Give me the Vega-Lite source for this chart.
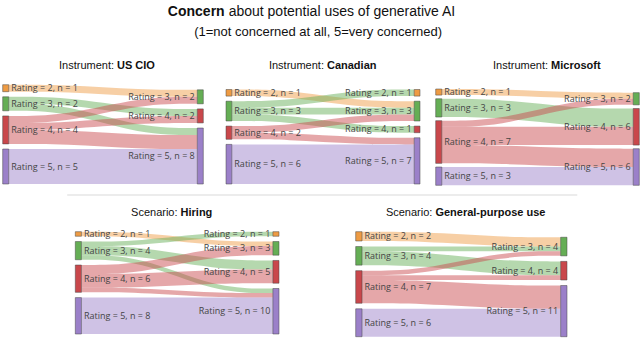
{
  "$schema": "https://vega.github.io/schema/vega-lite/v6.json",
  "padding": 0,
  "spacing": 0,
  "config": {"view": {"stroke": null}, "axis": {"disable": true}, "legend": {"disable": true}},
  "data": {"values": [
    {"panel": "US CIO", "src": 2, "tgt": 3, "value": 1},
    {"panel": "US CIO", "src": 3, "tgt": 4, "value": 1},
    {"panel": "US CIO", "src": 3, "tgt": 5, "value": 1},
    {"panel": "US CIO", "src": 4, "tgt": 3, "value": 1},
    {"panel": "US CIO", "src": 4, "tgt": 4, "value": 1},
    {"panel": "US CIO", "src": 4, "tgt": 5, "value": 2},
    {"panel": "US CIO", "src": 5, "tgt": 5, "value": 5},
    {"panel": "Canadian", "src": 2, "tgt": 3, "value": 1},
    {"panel": "Canadian", "src": 3, "tgt": 2, "value": 1},
    {"panel": "Canadian", "src": 3, "tgt": 3, "value": 1},
    {"panel": "Canadian", "src": 3, "tgt": 4, "value": 1},
    {"panel": "Canadian", "src": 4, "tgt": 3, "value": 1},
    {"panel": "Canadian", "src": 4, "tgt": 5, "value": 1},
    {"panel": "Canadian", "src": 5, "tgt": 5, "value": 6},
    {"panel": "Microsoft", "src": 2, "tgt": 3, "value": 1},
    {"panel": "Microsoft", "src": 3, "tgt": 4, "value": 3},
    {"panel": "Microsoft", "src": 4, "tgt": 3, "value": 1},
    {"panel": "Microsoft", "src": 4, "tgt": 4, "value": 3},
    {"panel": "Microsoft", "src": 4, "tgt": 5, "value": 3},
    {"panel": "Microsoft", "src": 5, "tgt": 5, "value": 3},
    {"panel": "Hiring", "src": 2, "tgt": 3, "value": 1},
    {"panel": "Hiring", "src": 3, "tgt": 2, "value": 1},
    {"panel": "Hiring", "src": 3, "tgt": 4, "value": 2},
    {"panel": "Hiring", "src": 3, "tgt": 5, "value": 1},
    {"panel": "Hiring", "src": 4, "tgt": 3, "value": 2},
    {"panel": "Hiring", "src": 4, "tgt": 4, "value": 3},
    {"panel": "Hiring", "src": 4, "tgt": 5, "value": 1},
    {"panel": "Hiring", "src": 5, "tgt": 5, "value": 8},
    {"panel": "General-purpose use", "src": 2, "tgt": 3, "value": 2},
    {"panel": "General-purpose use", "src": 3, "tgt": 3, "value": 1},
    {"panel": "General-purpose use", "src": 3, "tgt": 4, "value": 3},
    {"panel": "General-purpose use", "src": 4, "tgt": 3, "value": 1},
    {"panel": "General-purpose use", "src": 4, "tgt": 4, "value": 1},
    {"panel": "General-purpose use", "src": 4, "tgt": 5, "value": 5},
    {"panel": "General-purpose use", "src": 5, "tgt": 5, "value": 6}
  ]},
  "transform": [
    {"joinaggregate": [{"op": "sum", "field": "value", "as": "T"}], "groupby": ["panel"]},
    {"calculate": "datum.panel==='US CIO'?0.73:datum.panel==='Canadian'?0.77:datum.panel==='Microsoft'?0.6:datum.panel==='Hiring'?1.16:1.19", "as": "gap"},
    {"window": [{"op": "sum", "field": "value", "as": "srcCum"}], "groupby": ["panel", "src"], "sort": [{"field": "tgt"}]},
    {"window": [{"op": "sum", "field": "value", "as": "tgtCum"}], "groupby": ["panel", "tgt"], "sort": [{"field": "src"}]},
    {"window": [{"op": "sum", "field": "value", "as": "srcNodeCum"}, {"op": "dense_rank", "as": "srcRank"}], "groupby": ["panel"], "sort": [{"field": "src"}]},
    {"window": [{"op": "sum", "field": "value", "as": "tgtNodeCum"}, {"op": "dense_rank", "as": "tgtRank"}], "groupby": ["panel"], "sort": [{"field": "tgt"}]},
    {"joinaggregate": [{"op": "sum", "field": "value", "as": "srcTotal"}], "groupby": ["panel", "src"]},
    {"joinaggregate": [{"op": "sum", "field": "value", "as": "tgtTotal"}], "groupby": ["panel", "tgt"]},
    {"joinaggregate": [{"op": "distinct", "field": "src", "as": "nSrc"}, {"op": "distinct", "field": "tgt", "as": "nTgt"}], "groupby": ["panel"]},
    {"calculate": "datum.T + (max(datum.nSrc, datum.nTgt) - 1) * datum.gap", "as": "S"},
    {"calculate": "datum.S - (datum.T + (datum.nSrc - 1) * datum.gap) + (datum.srcNodeCum - datum.srcTotal) + (datum.srcRank - 1) * datum.gap", "as": "srcTop"},
    {"calculate": "datum.S - (datum.T + (datum.nTgt - 1) * datum.gap) + (datum.tgtNodeCum - datum.tgtTotal) + (datum.tgtRank - 1) * datum.gap", "as": "tgtTop"},
    {"calculate": "datum.srcTop + datum.srcCum - datum.value", "as": "sy0"},
    {"calculate": "datum.sy0 + datum.value", "as": "sy1"},
    {"calculate": "datum.tgtTop + datum.tgtCum - datum.value", "as": "ty0"},
    {"calculate": "datum.ty0 + datum.value", "as": "ty1"},
    {"calculate": "[0, 1, 2, 3]", "as": "pts"}
  ],
  "vconcat": [
    {
      "width": 640, "height": 56,
      "data": {"values": [{}]},
      "layer": [
        {"mark": {"type": "text", "align": "right", "baseline": "middle", "font": "Liberation Sans", "fontSize": 14, "fontWeight": "bold", "color": "#111"},
         "encoding": {"x": {"datum": 0.351, "scale": {"domain": [0, 1]}}, "y": {"datum": 0.214, "scale": {"domain": [0, 1], "range": [0, 56]}}, "text": {"value": "Concern"}}},
        {"mark": {"type": "text", "align": "left", "baseline": "middle", "dx": 4, "font": "Liberation Sans", "fontSize": 14, "color": "#111"},
         "encoding": {"x": {"datum": 0.351}, "y": {"datum": 0.214}, "text": {"value": "about potential uses of generative AI"}}},
        {"mark": {"type": "text", "align": "center", "baseline": "middle", "font": "Liberation Sans", "fontSize": 13, "color": "#111"},
         "encoding": {"x": {"datum": 0.497}, "y": {"datum": 0.571}, "text": {"value": "(1=not concerned at all, 5=very concerned)"}}}
      ]
    },
    {
      "spacing": 0,
      "hconcat": [
        {
          "width": 215, "height": 134,
          "transform": [{"filter": "datum.panel === 'US CIO'"}],
          "layer": [
            {"transform": [
               {"flatten": ["pts"], "as": ["idx"]},
               {"calculate": "datum.idx==0?0.03:datum.idx==1?0.312:datum.idx==2?0.688:0.97", "as": "fx"},
               {"calculate": "datum.idx<2?datum.sy0:datum.ty0", "as": "fy0"},
               {"calculate": "datum.idx<2?datum.sy1:datum.ty1", "as": "fy1"}],
             "mark": {"type": "area", "interpolate": "basis", "fillOpacity": 0.48},
             "encoding": {
               "x": {"field": "fx", "type": "quantitative", "scale": {"domain": [0, 1], "range": [2.7, 203.3]}},
               "y": {"field": "fy0", "type": "quantitative", "scale": {"domain": [0, 14.19], "range": [28.7, 128], "nice": false, "zero": false}},
               "y2": {"field": "fy1"},
               "color": {"field": "src", "type": "nominal", "scale": {"domain": [2, 3, 4, 5], "range": ["#EE9B43", "#65AE55", "#C9474B", "#9B80C9"]}},
               "detail": {"field": "tgt", "type": "nominal"}}},
            {"transform": [
               {"aggregate": [{"op": "min", "field": "srcTop", "as": "ny0"}, {"op": "min", "field": "srcTotal", "as": "n"}], "groupby": ["src"]},
               {"calculate": "datum.ny0 + datum.n", "as": "ny1"},
               {"calculate": "datum.ny0 + datum.n / 2", "as": "ym"},
               {"calculate": "'Rating = ' + datum.src + ', n = ' + datum.n", "as": "lab"}],
             "layer": [
               {"mark": {"type": "rect", "stroke": "#444", "strokeWidth": 0.5},
                "encoding": {"x": {"datum": 0}, "x2": {"datum": 0.03}, "y": {"field": "ny0", "type": "quantitative"}, "y2": {"field": "ny1"}, "color": {"field": "src", "type": "nominal"}}},
               {"mark": {"type": "text", "align": "left", "baseline": "middle", "dx": 2.5, "font": "Open Sans", "fontSize": 9, "color": "#444"},
                "encoding": {"x": {"datum": 0.03}, "y": {"field": "ym", "type": "quantitative"}, "text": {"field": "lab"}}}
             ]},
            {"transform": [
               {"aggregate": [{"op": "min", "field": "tgtTop", "as": "ny0"}, {"op": "min", "field": "tgtTotal", "as": "n"}], "groupby": ["tgt"]},
               {"calculate": "datum.ny0 + datum.n", "as": "ny1"},
               {"calculate": "datum.ny0 + datum.n / 2", "as": "ym"},
               {"calculate": "'Rating = ' + datum.tgt + ', n = ' + datum.n", "as": "lab"}],
             "layer": [
               {"mark": {"type": "rect", "stroke": "#444", "strokeWidth": 0.5},
                "encoding": {"x": {"datum": 0.97}, "x2": {"datum": 1}, "y": {"field": "ny0", "type": "quantitative"}, "y2": {"field": "ny1"}, "color": {"field": "tgt", "type": "nominal"}}},
               {"mark": {"type": "text", "align": "right", "baseline": "middle", "dx": -2.5, "font": "Open Sans", "fontSize": 9, "color": "#444"},
                "encoding": {"x": {"datum": 0.97}, "y": {"field": "ym", "type": "quantitative"}, "text": {"field": "lab"}}}
             ]},
            {"data": {"values": [{}]},
             "layer": [
               {"mark": {"type": "text", "align": "right", "baseline": "middle", "font": "Liberation Sans", "fontSize": 11, "color": "#111"},
                "encoding": {"x": {"datum": 0.555}, "y": {"datum": -2.67}, "text": {"value": "Instrument:"}}},
               {"mark": {"type": "text", "align": "left", "baseline": "middle", "dx": 3, "font": "Liberation Sans", "fontSize": 11, "fontWeight": "bold", "color": "#111"},
                "encoding": {"x": {"datum": 0.555}, "y": {"datum": -2.67}, "text": {"value": "US CIO"}}}
             ]}
          ]
        },
        {
          "width": 213, "height": 134,
          "transform": [{"filter": "datum.panel === 'Canadian'"}],
          "layer": [
            {"transform": [
               {"flatten": ["pts"], "as": ["idx"]},
               {"calculate": "datum.idx==0?0.03:datum.idx==1?0.312:datum.idx==2?0.688:0.97", "as": "fx"},
               {"calculate": "datum.idx<2?datum.sy0:datum.ty0", "as": "fy0"},
               {"calculate": "datum.idx<2?datum.sy1:datum.ty1", "as": "fy1"}],
             "mark": {"type": "area", "interpolate": "basis", "fillOpacity": 0.48},
             "encoding": {
               "x": {"field": "fx", "type": "quantitative", "scale": {"domain": [0, 1], "range": [11, 205]}},
               "y": {"field": "fy0", "type": "quantitative", "scale": {"domain": [0, 14.31], "range": [33.5, 128], "nice": false, "zero": false}},
               "y2": {"field": "fy1"},
               "color": {"field": "src", "type": "nominal", "scale": {"domain": [2, 3, 4, 5], "range": ["#EE9B43", "#65AE55", "#C9474B", "#9B80C9"]}},
               "detail": {"field": "tgt", "type": "nominal"}}},
            {"transform": [
               {"aggregate": [{"op": "min", "field": "srcTop", "as": "ny0"}, {"op": "min", "field": "srcTotal", "as": "n"}], "groupby": ["src"]},
               {"calculate": "datum.ny0 + datum.n", "as": "ny1"},
               {"calculate": "datum.ny0 + datum.n / 2", "as": "ym"},
               {"calculate": "'Rating = ' + datum.src + ', n = ' + datum.n", "as": "lab"}],
             "layer": [
               {"mark": {"type": "rect", "stroke": "#444", "strokeWidth": 0.5},
                "encoding": {"x": {"datum": 0}, "x2": {"datum": 0.03}, "y": {"field": "ny0", "type": "quantitative"}, "y2": {"field": "ny1"}, "color": {"field": "src", "type": "nominal"}}},
               {"mark": {"type": "text", "align": "left", "baseline": "middle", "dx": 2.5, "font": "Open Sans", "fontSize": 9, "color": "#444"},
                "encoding": {"x": {"datum": 0.03}, "y": {"field": "ym", "type": "quantitative"}, "text": {"field": "lab"}}}
             ]},
            {"transform": [
               {"aggregate": [{"op": "min", "field": "tgtTop", "as": "ny0"}, {"op": "min", "field": "tgtTotal", "as": "n"}], "groupby": ["tgt"]},
               {"calculate": "datum.ny0 + datum.n", "as": "ny1"},
               {"calculate": "datum.ny0 + datum.n / 2", "as": "ym"},
               {"calculate": "'Rating = ' + datum.tgt + ', n = ' + datum.n", "as": "lab"}],
             "layer": [
               {"mark": {"type": "rect", "stroke": "#444", "strokeWidth": 0.5},
                "encoding": {"x": {"datum": 0.97}, "x2": {"datum": 1}, "y": {"field": "ny0", "type": "quantitative"}, "y2": {"field": "ny1"}, "color": {"field": "tgt", "type": "nominal"}}},
               {"mark": {"type": "text", "align": "right", "baseline": "middle", "dx": -2.5, "font": "Open Sans", "fontSize": 9, "color": "#444"},
                "encoding": {"x": {"datum": 0.97}, "y": {"field": "ym", "type": "quantitative"}, "text": {"field": "lab"}}}
             ]},
            {"data": {"values": [{}]},
             "layer": [
               {"mark": {"type": "text", "align": "right", "baseline": "middle", "font": "Liberation Sans", "fontSize": 11, "color": "#111"},
                "encoding": {"x": {"datum": 0.505}, "y": {"datum": -3.56}, "text": {"value": "Instrument:"}}},
               {"mark": {"type": "text", "align": "left", "baseline": "middle", "dx": 3, "font": "Liberation Sans", "fontSize": 11, "fontWeight": "bold", "color": "#111"},
                "encoding": {"x": {"datum": 0.505}, "y": {"datum": -3.56}, "text": {"value": "Canadian"}}}
             ]}
          ]
        },
        {
          "width": 212, "height": 134,
          "transform": [{"filter": "datum.panel === 'Microsoft'"}],
          "layer": [
            {"transform": [
               {"flatten": ["pts"], "as": ["idx"]},
               {"calculate": "datum.idx==0?0.03:datum.idx==1?0.312:datum.idx==2?0.688:0.97", "as": "fx"},
               {"calculate": "datum.idx<2?datum.sy0:datum.ty0", "as": "fy0"},
               {"calculate": "datum.idx<2?datum.sy1:datum.ty1", "as": "fy1"}],
             "mark": {"type": "area", "interpolate": "basis", "fillOpacity": 0.48},
             "encoding": {
               "x": {"field": "fx", "type": "quantitative", "scale": {"domain": [0, 1], "range": [7.7, 211.3]}},
               "y": {"field": "fy0", "type": "quantitative", "scale": {"domain": [0, 15.8], "range": [33, 129.3], "nice": false, "zero": false}},
               "y2": {"field": "fy1"},
               "color": {"field": "src", "type": "nominal", "scale": {"domain": [2, 3, 4, 5], "range": ["#EE9B43", "#65AE55", "#C9474B", "#9B80C9"]}},
               "detail": {"field": "tgt", "type": "nominal"}}},
            {"transform": [
               {"aggregate": [{"op": "min", "field": "srcTop", "as": "ny0"}, {"op": "min", "field": "srcTotal", "as": "n"}], "groupby": ["src"]},
               {"calculate": "datum.ny0 + datum.n", "as": "ny1"},
               {"calculate": "datum.ny0 + datum.n / 2", "as": "ym"},
               {"calculate": "'Rating = ' + datum.src + ', n = ' + datum.n", "as": "lab"}],
             "layer": [
               {"mark": {"type": "rect", "stroke": "#444", "strokeWidth": 0.5},
                "encoding": {"x": {"datum": 0}, "x2": {"datum": 0.03}, "y": {"field": "ny0", "type": "quantitative"}, "y2": {"field": "ny1"}, "color": {"field": "src", "type": "nominal"}}},
               {"mark": {"type": "text", "align": "left", "baseline": "middle", "dx": 2.5, "font": "Open Sans", "fontSize": 9, "color": "#444"},
                "encoding": {"x": {"datum": 0.03}, "y": {"field": "ym", "type": "quantitative"}, "text": {"field": "lab"}}}
             ]},
            {"transform": [
               {"aggregate": [{"op": "min", "field": "tgtTop", "as": "ny0"}, {"op": "min", "field": "tgtTotal", "as": "n"}], "groupby": ["tgt"]},
               {"calculate": "datum.ny0 + datum.n", "as": "ny1"},
               {"calculate": "datum.ny0 + datum.n / 2", "as": "ym"},
               {"calculate": "'Rating = ' + datum.tgt + ', n = ' + datum.n", "as": "lab"}],
             "layer": [
               {"mark": {"type": "rect", "stroke": "#444", "strokeWidth": 0.5},
                "encoding": {"x": {"datum": 0.97}, "x2": {"datum": 1}, "y": {"field": "ny0", "type": "quantitative"}, "y2": {"field": "ny1"}, "color": {"field": "tgt", "type": "nominal"}}},
               {"mark": {"type": "text", "align": "right", "baseline": "middle", "dx": -2.5, "font": "Open Sans", "fontSize": 9, "color": "#444"},
                "encoding": {"x": {"datum": 0.97}, "y": {"field": "ym", "type": "quantitative"}, "text": {"field": "lab"}}}
             ]},
            {"data": {"values": [{}]},
             "layer": [
               {"mark": {"type": "text", "align": "right", "baseline": "middle", "font": "Liberation Sans", "fontSize": 11, "color": "#111"},
                "encoding": {"x": {"datum": 0.552}, "y": {"datum": -3.78}, "text": {"value": "Instrument:"}}},
               {"mark": {"type": "text", "align": "left", "baseline": "middle", "dx": 3, "font": "Liberation Sans", "fontSize": 11, "fontWeight": "bold", "color": "#111"},
                "encoding": {"x": {"datum": 0.552}, "y": {"datum": -3.78}, "text": {"value": "Microsoft"}}}
             ]}
          ]
        }
      ]
    },
    {
      "width": 640, "height": 10,
      "data": {"values": [{}]},
      "mark": {"type": "rule", "color": "#d9d9d9", "strokeWidth": 1},
      "encoding": {"x": {"datum": 0.105, "scale": {"domain": [0, 1]}}, "x2": {"datum": 0.902}, "y": {"datum": 0.5, "scale": {"domain": [0, 1]}}}
    },
    {
      "spacing": 0,
      "hconcat": [
        {
          "width": 320, "height": 143,
          "transform": [{"filter": "datum.panel === 'Hiring'"}],
          "layer": [
            {"transform": [
               {"flatten": ["pts"], "as": ["idx"]},
               {"calculate": "datum.idx==0?0.03:datum.idx==1?0.312:datum.idx==2?0.688:0.97", "as": "fx"},
               {"calculate": "datum.idx<2?datum.sy0:datum.ty0", "as": "fy0"},
               {"calculate": "datum.idx<2?datum.sy1:datum.ty1", "as": "fy1"}],
             "mark": {"type": "area", "interpolate": "basis", "fillOpacity": 0.48},
             "encoding": {
               "x": {"field": "fx", "type": "quantitative", "scale": {"domain": [0, 1], "range": [75.3, 279]}},
               "y": {"field": "fy0", "type": "quantitative", "scale": {"domain": [0, 22.48], "range": [31.7, 134], "nice": false, "zero": false}},
               "y2": {"field": "fy1"},
               "color": {"field": "src", "type": "nominal", "scale": {"domain": [2, 3, 4, 5], "range": ["#EE9B43", "#65AE55", "#C9474B", "#9B80C9"]}},
               "detail": {"field": "tgt", "type": "nominal"}}},
            {"transform": [
               {"aggregate": [{"op": "min", "field": "srcTop", "as": "ny0"}, {"op": "min", "field": "srcTotal", "as": "n"}], "groupby": ["src"]},
               {"calculate": "datum.ny0 + datum.n", "as": "ny1"},
               {"calculate": "datum.ny0 + datum.n / 2", "as": "ym"},
               {"calculate": "'Rating = ' + datum.src + ', n = ' + datum.n", "as": "lab"}],
             "layer": [
               {"mark": {"type": "rect", "stroke": "#444", "strokeWidth": 0.5},
                "encoding": {"x": {"datum": 0}, "x2": {"datum": 0.03}, "y": {"field": "ny0", "type": "quantitative"}, "y2": {"field": "ny1"}, "color": {"field": "src", "type": "nominal"}}},
               {"mark": {"type": "text", "align": "left", "baseline": "middle", "dx": 2.5, "font": "Open Sans", "fontSize": 9, "color": "#444"},
                "encoding": {"x": {"datum": 0.03}, "y": {"field": "ym", "type": "quantitative"}, "text": {"field": "lab"}}}
             ]},
            {"transform": [
               {"aggregate": [{"op": "min", "field": "tgtTop", "as": "ny0"}, {"op": "min", "field": "tgtTotal", "as": "n"}], "groupby": ["tgt"]},
               {"calculate": "datum.ny0 + datum.n", "as": "ny1"},
               {"calculate": "datum.ny0 + datum.n / 2", "as": "ym"},
               {"calculate": "'Rating = ' + datum.tgt + ', n = ' + datum.n", "as": "lab"}],
             "layer": [
               {"mark": {"type": "rect", "stroke": "#444", "strokeWidth": 0.5},
                "encoding": {"x": {"datum": 0.97}, "x2": {"datum": 1}, "y": {"field": "ny0", "type": "quantitative"}, "y2": {"field": "ny1"}, "color": {"field": "tgt", "type": "nominal"}}},
               {"mark": {"type": "text", "align": "right", "baseline": "middle", "dx": -2.5, "font": "Open Sans", "fontSize": 9, "color": "#444"},
                "encoding": {"x": {"datum": 0.97}, "y": {"field": "ym", "type": "quantitative"}, "text": {"field": "lab"}}}
             ]},
            {"data": {"values": [{}]},
             "layer": [
               {"mark": {"type": "text", "align": "right", "baseline": "middle", "font": "Liberation Sans", "fontSize": 11, "color": "#111"},
                "encoding": {"x": {"datum": 0.502}, "y": {"datum": -4.11}, "text": {"value": "Scenario:"}}},
               {"mark": {"type": "text", "align": "left", "baseline": "middle", "dx": 3, "font": "Liberation Sans", "fontSize": 11, "fontWeight": "bold", "color": "#111"},
                "encoding": {"x": {"datum": 0.502}, "y": {"datum": -4.11}, "text": {"value": "Hiring"}}}
             ]}
          ]
        },
        {
          "width": 320, "height": 143,
          "transform": [{"filter": "datum.panel === 'General-purpose use'"}],
          "layer": [
            {"transform": [
               {"flatten": ["pts"], "as": ["idx"]},
               {"calculate": "datum.idx==0?0.03:datum.idx==1?0.312:datum.idx==2?0.688:0.97", "as": "fx"},
               {"calculate": "datum.idx<2?datum.sy0:datum.ty0", "as": "fy0"},
               {"calculate": "datum.idx<2?datum.sy1:datum.ty1", "as": "fy1"}],
             "mark": {"type": "area", "interpolate": "basis", "fillOpacity": 0.48},
             "encoding": {
               "x": {"field": "fx", "type": "quantitative", "scale": {"domain": [0, 1], "range": [35.7, 247]}},
               "y": {"field": "fy0", "type": "quantitative", "scale": {"domain": [0, 22.57], "range": [31.7, 136.7], "nice": false, "zero": false}},
               "y2": {"field": "fy1"},
               "color": {"field": "src", "type": "nominal", "scale": {"domain": [2, 3, 4, 5], "range": ["#EE9B43", "#65AE55", "#C9474B", "#9B80C9"]}},
               "detail": {"field": "tgt", "type": "nominal"}}},
            {"transform": [
               {"aggregate": [{"op": "min", "field": "srcTop", "as": "ny0"}, {"op": "min", "field": "srcTotal", "as": "n"}], "groupby": ["src"]},
               {"calculate": "datum.ny0 + datum.n", "as": "ny1"},
               {"calculate": "datum.ny0 + datum.n / 2", "as": "ym"},
               {"calculate": "'Rating = ' + datum.src + ', n = ' + datum.n", "as": "lab"}],
             "layer": [
               {"mark": {"type": "rect", "stroke": "#444", "strokeWidth": 0.5},
                "encoding": {"x": {"datum": 0}, "x2": {"datum": 0.03}, "y": {"field": "ny0", "type": "quantitative"}, "y2": {"field": "ny1"}, "color": {"field": "src", "type": "nominal"}}},
               {"mark": {"type": "text", "align": "left", "baseline": "middle", "dx": 2.5, "font": "Open Sans", "fontSize": 9, "color": "#444"},
                "encoding": {"x": {"datum": 0.03}, "y": {"field": "ym", "type": "quantitative"}, "text": {"field": "lab"}}}
             ]},
            {"transform": [
               {"aggregate": [{"op": "min", "field": "tgtTop", "as": "ny0"}, {"op": "min", "field": "tgtTotal", "as": "n"}], "groupby": ["tgt"]},
               {"calculate": "datum.ny0 + datum.n", "as": "ny1"},
               {"calculate": "datum.ny0 + datum.n / 2", "as": "ym"},
               {"calculate": "'Rating = ' + datum.tgt + ', n = ' + datum.n", "as": "lab"}],
             "layer": [
               {"mark": {"type": "rect", "stroke": "#444", "strokeWidth": 0.5},
                "encoding": {"x": {"datum": 0.97}, "x2": {"datum": 1}, "y": {"field": "ny0", "type": "quantitative"}, "y2": {"field": "ny1"}, "color": {"field": "tgt", "type": "nominal"}}},
               {"mark": {"type": "text", "align": "right", "baseline": "middle", "dx": -2.5, "font": "Open Sans", "fontSize": 9, "color": "#444"},
                "encoding": {"x": {"datum": 0.97}, "y": {"field": "ym", "type": "quantitative"}, "text": {"field": "lab"}}}
             ]},
            {"data": {"values": [{}]},
             "layer": [
               {"mark": {"type": "text", "align": "right", "baseline": "middle", "font": "Liberation Sans", "fontSize": 11, "color": "#111"},
                "encoding": {"x": {"datum": 0.363}, "y": {"datum": -4.02}, "text": {"value": "Scenario:"}}},
               {"mark": {"type": "text", "align": "left", "baseline": "middle", "dx": 3, "font": "Liberation Sans", "fontSize": 11, "fontWeight": "bold", "color": "#111"},
                "encoding": {"x": {"datum": 0.363}, "y": {"datum": -4.02}, "text": {"value": "General-purpose use"}}}
             ]}
          ]
        }
      ]
    }
  ]
}
